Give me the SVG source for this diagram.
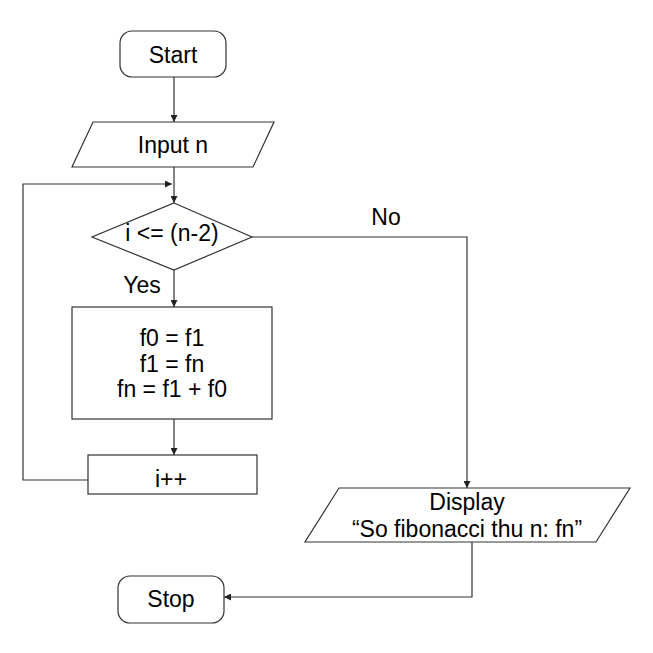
<svg xmlns="http://www.w3.org/2000/svg" width="653" height="653" viewBox="0 0 653 653">
  <style>
    .shape { fill: #ffffff; stroke: #333333; stroke-width: 1.2; }
    .edge { fill: none; stroke: #333333; stroke-width: 1.2; }
    text { font-family: "Liberation Sans", Arial, sans-serif; font-size: 23px; fill: #000000; text-anchor: middle; }
  </style>
  <defs>
    <marker id="arrow" viewBox="0 0 10 10" refX="10" refY="5" markerWidth="7" markerHeight="7" markerUnits="userSpaceOnUse" orient="auto">
      <path d="M0,0 L10,5 L0,10 z" fill="#222222"/>
    </marker>
  </defs>
  <rect width="653" height="653" fill="#ffffff"/>

  <g id="connectors">
    <path class="edge" d="M174,77 V122" marker-end="url(#arrow)"/>
    <path class="edge" d="M174,167 V203" marker-end="url(#arrow)"/>
    <path class="edge" d="M88,480 H23 V184 H172" marker-end="url(#arrow)"/>
    <path class="edge" d="M174,270 V307" marker-end="url(#arrow)"/>
    <path class="edge" d="M174,419 V455" marker-end="url(#arrow)"/>
    <path class="edge" d="M252,237 H467 V488" marker-end="url(#arrow)"/>
    <path class="edge" d="M472,542 V597 H224" marker-end="url(#arrow)"/>
  </g>

  <g id="start">
    <rect class="shape" x="120" y="31" width="106" height="46" rx="12"/>
    <text x="173" y="63">Start</text>
  </g>

  <g id="input">
    <polygon class="shape" points="93,122 274,122 253,167 72,167"/>
    <text x="173" y="153">Input n</text>
  </g>

  <g id="condition">
    <polygon class="shape" points="174,203 252,237 174,270 92,237"/>
    <text x="172" y="241">i &lt;= (n-2)</text>
  </g>

  <g id="labels">
    <text x="386" y="225">No</text>
    <text x="142" y="293">Yes</text>
  </g>

  <g id="process">
    <rect class="shape" x="72" y="307" width="200" height="112"/>
    <text x="172" y="346">f0 = f1</text>
    <text x="172" y="372">f1 = fn</text>
    <text x="172" y="397">fn = f1 + f0</text>
  </g>

  <g id="increment">
    <rect class="shape" x="88" y="455" width="169" height="39"/>
    <text x="171" y="487">i++</text>
  </g>

  <g id="display">
    <polygon class="shape" points="339,488 630,488 596,542 305,542"/>
    <text x="467" y="510">Display</text>
    <text x="467" y="537">“So fibonacci thu n: fn”</text>
  </g>

  <g id="stop">
    <rect class="shape" x="118" y="576" width="106" height="47" rx="12"/>
    <text x="171" y="607">Stop</text>
  </g>
</svg>
